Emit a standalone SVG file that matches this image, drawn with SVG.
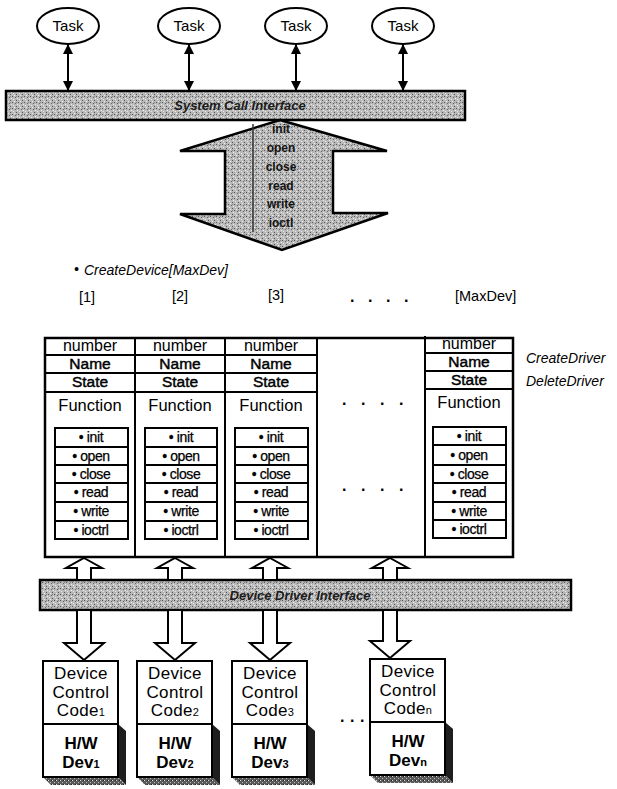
<svg xmlns="http://www.w3.org/2000/svg" width="617" height="789" viewBox="0 0 617 789">
  <defs>
    <!-- grainy halftone grey used for interface bars and the fat arrow -->
    <pattern id="grain" width="6" height="6" patternUnits="userSpaceOnUse">
      <rect width="6" height="6" fill="#b9b9b9"/>
      <rect x="0" y="0" width="1" height="1" fill="#555"/>
      <rect x="3" y="1" width="1" height="1" fill="#666"/>
      <rect x="1" y="3" width="1" height="1" fill="#ececec"/>
      <rect x="4" y="4" width="1" height="1" fill="#555"/>
      <rect x="2" y="5" width="1" height="1" fill="#eee"/>
      <rect x="5" y="2" width="1" height="1" fill="#eee"/>
      <rect x="4" y="0" width="1" height="1" fill="#888"/>
    </pattern>
    <pattern id="grainDark" width="4" height="4" patternUnits="userSpaceOnUse">
      <rect width="4" height="4" fill="#5a5a5a"/>
      <rect x="0" y="0" width="1" height="1" fill="#ddd"/>
      <rect x="2" y="2" width="1" height="1" fill="#bbb"/>
      <rect x="3" y="0" width="1" height="1" fill="#222"/>
    </pattern>
    <marker id="ah" viewBox="0 0 10 10" refX="10" refY="5" markerWidth="10" markerHeight="10" markerUnits="userSpaceOnUse" orient="auto-start-reverse">
      <path d="M0,0 L10,5 L0,10 z" fill="#000"/>
    </marker>
    <style>
      .ln { stroke: #000; fill: none; }
      .task { fill: #fff; stroke: #000; stroke-width: 2; }
      .bar { fill: url(#grain); stroke: #000; stroke-width: 2.5; }
      .cell { fill: #fff; stroke: #000; stroke-width: 2; }
      .hollow { fill: #fff; stroke: #000; stroke-width: 2; stroke-linejoin: miter; }
      .t { font-family: "Liberation Sans", Arial, sans-serif; fill: #000; text-anchor: middle; }
      .lbl { font-family: "Liberation Sans", Arial, sans-serif; font-weight: bold; font-style: italic; fill: #1c1c1c; text-anchor: middle; font-size: 13px; }
      .fn { font-family: "Liberation Sans", Arial, sans-serif; font-weight: bold; fill: #141414; text-anchor: middle; font-size: 12px; }
      .it { font-family: "Liberation Sans", Arial, sans-serif; font-style: italic; fill: #000; font-size: 14px; }
      .num { font-size: 16px; }
      .nm { font-size: 15.5px; stroke: #000; stroke-width: 0.45px; }
      .func { font-size: 16.5px; }
      .item { font-size: 14px; letter-spacing: -0.4px; stroke: #000; stroke-width: 0.25px; }
      .dev { font-size: 17px; letter-spacing: 0.3px; }
      .hw { font-size: 17px; font-weight: bold; }
      .sub { font-size: 11px; }
      .dots { font-family: "Liberation Sans", Arial, sans-serif; font-size: 16px; font-weight: bold; fill: #000; }
    </style>
  </defs>

  <!-- tasks -->
  <g id="task1"><ellipse class="task" cx="68" cy="26" rx="31" ry="18"/><text class="t" x="68" y="31" font-size="15">Task</text></g>
  <g id="task2"><ellipse class="task" cx="189" cy="26" rx="31" ry="18"/><text class="t" x="189" y="31" font-size="15">Task</text></g>
  <g id="task3"><ellipse class="task" cx="296" cy="26" rx="31" ry="18"/><text class="t" x="296" y="31" font-size="15">Task</text></g>
  <g id="task4"><ellipse class="task" cx="403" cy="26" rx="31" ry="18"/><text class="t" x="403" y="31" font-size="15">Task</text></g>

  <!-- system call interface bar -->
  <g id="syscall">
    <rect class="bar" x="6" y="91" width="459" height="29"/>
    <text class="lbl" x="240" y="110">System Call Interface</text>
  </g>

  <!-- fat double arrow carrying the call set -->
  <g id="calls">
    <polygon class="bar" points="280,120 387,151 333,151 333,213 388,213 282,250 180,214 225,214 225,151 180,151"/>
    <line x1="253" y1="124" x2="253" y2="232" stroke="#333" stroke-width="1.5"/>
    <text class="fn" x="281" y="133">init</text>
    <text class="fn" x="281" y="152">open</text>
    <text class="fn" x="281" y="171">close</text>
    <text class="fn" x="281" y="190">read</text>
    <text class="fn" x="281" y="208">write</text>
    <text class="fn" x="281" y="227">ioctl</text>
  </g>

  <!-- device table header -->
  <g id="createdevice">
    <text class="it" x="74" y="274" font-size="10">•</text>
    <text class="it" x="84" y="275">CreateDevice[MaxDev]</text>
  </g>
  <g id="indices" font-family="Liberation Sans, Arial, sans-serif" font-size="14.5">
    <text x="79" y="302">[1]</text>
    <text x="172" y="301">[2]</text>
    <text x="268" y="300">[3]</text>
    <text class="dots" x="350 368 386 404" y="302">....</text>
    <text x="455" y="301">[MaxDev]</text>
  </g>

  <!-- device table -->
  <g id="table">
    <rect x="45" y="338" width="468" height="219" fill="#fff" stroke="#000" stroke-width="2.5"/>
    <g class="ln" stroke-width="2">
      <line x1="135" y1="338" x2="135" y2="557"/>
      <line x1="225" y1="338" x2="225" y2="557"/>
      <line x1="317" y1="338" x2="317" y2="557"/>
      <line x1="425" y1="336" x2="425" y2="557"/>
      <line x1="45" y1="355" x2="317" y2="355"/>
      <line x1="45" y1="373" x2="317" y2="373"/>
      <line x1="45" y1="392" x2="317" y2="392"/>
      <line x1="425" y1="353" x2="513" y2="353"/>
      <line x1="425" y1="371" x2="513" y2="371"/>
      <line x1="425" y1="389" x2="513" y2="389"/>
    </g>
  </g>

  <g id="dev1">
    <text class="t num" x="90" y="351">number</text>
    <text class="t nm" x="90" y="369">Name</text>
    <text class="t nm" x="90" y="387">State</text>
    <text class="t func" x="90" y="411">Function</text>
    <rect class="cell" x="55" y="428" width="73" height="111"/>
    <g class="ln" stroke-width="2"><line x1="55" y1="447" x2="128" y2="447"/><line x1="55" y1="465" x2="128" y2="465"/><line x1="55" y1="483" x2="128" y2="483"/><line x1="55" y1="502" x2="128" y2="502"/><line x1="55" y1="521" x2="128" y2="521"/></g>
    <text class="t item" x="91" y="442">• init</text>
    <text class="t item" x="91" y="461">• open</text>
    <text class="t item" x="91" y="479">• close</text>
    <text class="t item" x="91" y="497">• read</text>
    <text class="t item" x="91" y="516">• write</text>
    <text class="t item" x="91" y="535">• ioctrl</text>
  </g>
  <g id="dev2">
    <text class="t num" x="180" y="351">number</text>
    <text class="t nm" x="180" y="369">Name</text>
    <text class="t nm" x="180" y="387">State</text>
    <text class="t func" x="180" y="411">Function</text>
    <rect class="cell" x="145" y="428" width="72" height="111"/>
    <g class="ln" stroke-width="2"><line x1="145" y1="447" x2="217" y2="447"/><line x1="145" y1="465" x2="217" y2="465"/><line x1="145" y1="483" x2="217" y2="483"/><line x1="145" y1="502" x2="217" y2="502"/><line x1="145" y1="521" x2="217" y2="521"/></g>
    <text class="t item" x="181" y="442">• init</text>
    <text class="t item" x="181" y="461">• open</text>
    <text class="t item" x="181" y="479">• close</text>
    <text class="t item" x="181" y="497">• read</text>
    <text class="t item" x="181" y="516">• write</text>
    <text class="t item" x="181" y="535">• ioctrl</text>
  </g>
  <g id="dev3">
    <text class="t num" x="271" y="351">number</text>
    <text class="t nm" x="271" y="369">Name</text>
    <text class="t nm" x="271" y="387">State</text>
    <text class="t func" x="271" y="411">Function</text>
    <rect class="cell" x="235" y="428" width="73" height="111"/>
    <g class="ln" stroke-width="2"><line x1="235" y1="447" x2="308" y2="447"/><line x1="235" y1="465" x2="308" y2="465"/><line x1="235" y1="483" x2="308" y2="483"/><line x1="235" y1="502" x2="308" y2="502"/><line x1="235" y1="521" x2="308" y2="521"/></g>
    <text class="t item" x="271" y="442">• init</text>
    <text class="t item" x="271" y="461">• open</text>
    <text class="t item" x="271" y="479">• close</text>
    <text class="t item" x="271" y="497">• read</text>
    <text class="t item" x="271" y="516">• write</text>
    <text class="t item" x="271" y="535">• ioctrl</text>
  </g>
  <g id="devgap">
    <text class="dots" x="342 361 380 399" y="405">....</text>
    <text class="dots" x="342 361 380 399" y="491">....</text>
  </g>
  <g id="devmax">
    <text class="t num" x="469" y="349">number</text>
    <text class="t nm" x="469" y="367">Name</text>
    <text class="t nm" x="469" y="385">State</text>
    <text class="t func" x="469" y="408">Function</text>
    <rect class="cell" x="433" y="427" width="73" height="111"/>
    <g class="ln" stroke-width="2"><line x1="433" y1="445" x2="506" y2="445"/><line x1="433" y1="465" x2="506" y2="465"/><line x1="433" y1="483" x2="506" y2="483"/><line x1="433" y1="502" x2="506" y2="502"/><line x1="433" y1="520" x2="506" y2="520"/></g>
    <text class="t item" x="469" y="441">• init</text>
    <text class="t item" x="469" y="460">• open</text>
    <text class="t item" x="469" y="479">• close</text>
    <text class="t item" x="469" y="497">• read</text>
    <text class="t item" x="469" y="516">• write</text>
    <text class="t item" x="469" y="534">• ioctrl</text>
  </g>
  <g id="driverops">
    <text class="it" x="526" y="363">CreateDriver</text>
    <text class="it" x="526" y="386">DeleteDriver</text>
  </g>

  <!-- device driver interface bar -->
  <g id="ddi">
    <rect class="bar" x="40" y="580" width="531" height="30"/>
    <text class="lbl" x="300" y="600">Device Driver Interface</text>
  </g>

  <!-- hardware devices -->
  <g id="hw1">
    <polygon points="118,724 126,731 126,785 118,777" fill="#1e1e1e"/>
    <polygon points="43,777 51,785 126,785 118,777" fill="url(#grainDark)"/>
    <rect class="cell" x="43" y="661" width="75" height="116"/>
    <line class="ln" stroke-width="2" x1="43" y1="724" x2="118" y2="724"/>
    <text class="t dev" x="81" y="679">Device</text>
    <text class="t dev" x="81" y="698">Control</text>
    <text class="t dev" x="81" y="716">Code<tspan class="sub">1</tspan></text>
    <text class="t hw" x="81" y="749">H/W</text>
    <text class="t hw" x="81" y="768">Dev<tspan class="sub">1</tspan></text>
  </g>
  <g id="hw2">
    <polygon points="212,724 220,731 220,785 212,777" fill="#1e1e1e"/>
    <polygon points="137,777 145,785 220,785 212,777" fill="url(#grainDark)"/>
    <rect class="cell" x="137" y="661" width="75" height="116"/>
    <line class="ln" stroke-width="2" x1="137" y1="724" x2="212" y2="724"/>
    <text class="t dev" x="175" y="679">Device</text>
    <text class="t dev" x="175" y="698">Control</text>
    <text class="t dev" x="175" y="716">Code<tspan class="sub">2</tspan></text>
    <text class="t hw" x="175" y="749">H/W</text>
    <text class="t hw" x="175" y="768">Dev<tspan class="sub">2</tspan></text>
  </g>
  <g id="hw3">
    <polygon points="307,724 315,731 315,785 307,777" fill="#1e1e1e"/>
    <polygon points="232,777 240,785 315,785 307,777" fill="url(#grainDark)"/>
    <rect class="cell" x="232" y="661" width="75" height="116"/>
    <line class="ln" stroke-width="2" x1="232" y1="724" x2="307" y2="724"/>
    <text class="t dev" x="270" y="679">Device</text>
    <text class="t dev" x="270" y="698">Control</text>
    <text class="t dev" x="270" y="716">Code<tspan class="sub">3</tspan></text>
    <text class="t hw" x="270" y="749">H/W</text>
    <text class="t hw" x="270" y="768">Dev<tspan class="sub">3</tspan></text>
  </g>
  <g id="hwgap">
    <text class="dots" x="340 350 360" y="722">...</text>
  </g>
  <g id="hwn">
    <polygon points="445,722 453,729 453,783 445,775" fill="#1e1e1e"/>
    <polygon points="370,775 378,783 453,783 445,775" fill="url(#grainDark)"/>
    <rect class="cell" x="370" y="659" width="75" height="116"/>
    <line class="ln" stroke-width="2" x1="370" y1="722" x2="445" y2="722"/>
    <text class="t dev" x="408" y="677">Device</text>
    <text class="t dev" x="408" y="696">Control</text>
    <text class="t dev" x="408" y="714">Code<tspan class="sub">n</tspan></text>
    <text class="t hw" x="408" y="747">H/W</text>
    <text class="t hw" x="408" y="766">Dev<tspan class="sub">n</tspan></text>
  </g>

  <!-- connectors -->
  <g id="connectors">
    <g class="ln" stroke-width="2">
      <line x1="68" y1="44" x2="68" y2="91" marker-start="url(#ah)" marker-end="url(#ah)"/>
      <line x1="189" y1="44" x2="189" y2="91" marker-start="url(#ah)" marker-end="url(#ah)"/>
      <line x1="296" y1="44" x2="296" y2="91" marker-start="url(#ah)" marker-end="url(#ah)"/>
      <line x1="403" y1="44" x2="403" y2="91" marker-start="url(#ah)" marker-end="url(#ah)"/>
    </g>
    <!-- hollow arrows from driver interface up into the table -->
    <polygon class="hollow" points="84,558 102,568 91,568 91,580 77,580 77,568 66,568"/>
    <polygon class="hollow" points="175,558 193,568 182,568 182,580 168,580 168,568 157,568"/>
    <polygon class="hollow" points="270,558 288,568 277,568 277,580 263,580 263,568 252,568"/>
    <polygon class="hollow" points="390,558 408,568 397,568 397,580 383,580 383,568 372,568"/>
    <!-- hollow arrows from driver interface down to the device code -->
    <polygon class="hollow" points="77,610 91,610 91,643 104,643 84,660 64,643 77,643"/>
    <polygon class="hollow" points="168,610 182,610 182,643 195,643 175,660 155,643 168,643"/>
    <polygon class="hollow" points="263,610 277,610 277,643 290,643 270,660 250,643 263,643"/>
    <polygon class="hollow" points="383,610 397,610 397,641 410,641 390,658 370,641 383,641"/>
  </g>
</svg>
